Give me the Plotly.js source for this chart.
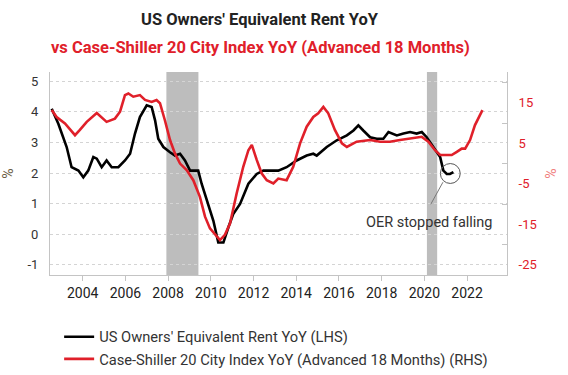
<!DOCTYPE html>
<html><head><meta charset="utf-8">
<script src="https://cdn.plot.ly/plotly-3.0.1.min.js"></script>
<style>html,body{margin:0;padding:0;background:#fff;}#chart{width:568px;height:375px;}</style>
</head><body><div id="chart"></div>
<script>
const oerX = [2002.55, 2002.86, 2003.25, 2003.48, 2003.8, 2004.03, 2004.26, 2004.5, 2004.66, 2004.89, 2005.12, 2005.36, 2005.67, 2005.98, 2006.22, 2006.45, 2006.68, 2007.0, 2007.23, 2007.39, 2007.54, 2007.78, 2008.09, 2008.32, 2008.56, 2008.79, 2009.03, 2009.41, 2009.57, 2009.81, 2010.12, 2010.35, 2010.59, 2010.82, 2011.05, 2011.37, 2011.76, 2012.15, 2012.46, 2012.77, 2013.16, 2013.55, 2014.02, 2014.49, 2014.8, 2014.96, 2015.43, 2015.9, 2016.37, 2016.68, 2016.91, 2017.14, 2017.46, 2017.77, 2018.08, 2018.32, 2018.71, 2019.02, 2019.33, 2019.64, 2019.88, 2020.11, 2020.43, 2020.74, 2020.89, 2021.05, 2021.2, 2021.36];
const oerY = [4.1, 3.61, 2.85, 2.19, 2.08, 1.86, 2.08, 2.52, 2.47, 2.19, 2.41, 2.19, 2.19, 2.41, 2.63, 3.29, 3.83, 4.21, 4.16, 3.72, 3.12, 2.85, 2.68, 2.57, 2.63, 2.41, 2.08, 2.08, 1.65, 1.1, 0.44, -0.27, -0.27, 0.22, 0.66, 0.99, 1.65, 1.97, 2.08, 2.08, 2.08, 2.19, 2.41, 2.57, 2.63, 2.57, 2.85, 3.07, 3.23, 3.39, 3.56, 3.39, 3.17, 3.12, 3.12, 3.34, 3.23, 3.29, 3.34, 3.29, 3.34, 3.17, 2.85, 2.52, 2.08, 1.97, 1.97, 2.03];
const csX = [2002.55, 2002.78, 2003.17, 2003.64, 2003.87, 2004.19, 2004.66, 2005.12, 2005.51, 2005.75, 2005.98, 2006.14, 2006.37, 2006.68, 2006.92, 2007.23, 2007.46, 2007.62, 2007.85, 2008.09, 2008.32, 2008.56, 2008.87, 2009.18, 2009.49, 2009.73, 2009.96, 2010.2, 2010.43, 2010.66, 2010.9, 2011.21, 2011.52, 2011.76, 2011.92, 2012.15, 2012.38, 2012.62, 2012.93, 2013.16, 2013.55, 2013.86, 2014.18, 2014.49, 2014.8, 2015.03, 2015.27, 2015.5, 2015.81, 2016.14, 2016.37, 2016.83, 2017.46, 2017.93, 2018.39, 2018.86, 2019.48, 2019.88, 2020.19, 2020.5, 2020.74, 2021.05, 2021.28, 2021.52, 2021.75, 2021.91, 2022.14, 2022.37, 2022.61, 2022.72];
const csY = [13.2, 11.5, 9.9, 7.0, 8.3, 10.3, 12.5, 10.3, 11.1, 12.8, 16.9, 17.3, 16.5, 16.9, 15.7, 15.2, 15.7, 14.9, 10.7, 5.8, 2.5, 0.0, -1.6, -4.1, -8.2, -13.1, -16.0, -17.6, -18.9, -17.6, -14.8, -7.4, -0.8, 3.3, 4.6, 0.9, -2.4, -4.1, -4.9, -3.7, -4.1, -0.8, 5.0, 9.1, 11.5, 12.4, 14.0, 12.4, 8.3, 5.0, 4.1, 5.4, 5.8, 5.4, 5.4, 5.8, 6.2, 6.6, 5.4, 3.3, 2.1, 2.1, 2.1, 2.9, 3.7, 3.7, 5.8, 9.5, 12.0, 13.2];
const xTicks = [2004, 2006, 2008, 2010, 2012, 2014, 2016, 2018, 2020, 2022];
const leftTicks = [-1, 0, 1, 2, 3, 4, 5];
const rightTicks = [-25, -15, -5, 5, 15];
const rightMinor = [-20, -10, 0, 10, 20];
const recessions = [[2007.92, 2009.42], [2020.12, 2020.6]];
const seriesNames = ["US Owners' Equivalent Rent YoY (LHS)", "Case-Shiller 20 City Index YoY (Advanced 18 Months) (RHS)"];
const titleLine1 = "US Owners' Equivalent Rent YoY";
const titleLine2 = "vs Case-Shiller 20 City Index YoY (Advanced 18 Months)";
const noteText = "OER stopped falling";

const RED = '#e0202a';
const font = 'Roboto, "Liberation Sans", Arial, sans-serif';

const traces = [
  {x: oerX, y: oerY, type: 'scatter', mode: 'lines', name: seriesNames[0],
   line: {color: '#000000', width: 2.6}, yaxis: 'y'},
  {x: csX, y: csY, type: 'scatter', mode: 'lines', name: seriesNames[1],
   line: {color: RED, width: 2.6}, yaxis: 'y2'}
];

const shapes = recessions.map(r => ({type: 'rect', xref: 'x', yref: 'paper', x0: r[0], x1: r[1], y0: 0, y1: 1,
  fillcolor: '#bdbdbd', line: {width: 0}, layer: 'below'}));
shapes.push({type: 'circle', xref: 'x', yref: 'y', x0: 2020.75, x1: 2021.68, y0: 1.66, y1: 2.31,
  line: {color: '#555', width: 1}, fillcolor: 'rgba(0,0,0,0)'});
shapes.push({type: 'line', xref: 'x', yref: 'y', x0: 2020.87, y0: 1.7, x1: 2020.3, y1: 0.98,
  line: {color: '#777', width: 1}});

const layout = {
  width: 568, height: 375,
  margin: {l: 50, r: 61, t: 72, b: 100, autoexpand: false},
  paper_bgcolor: '#fff', plot_bgcolor: '#fff',
  font: {family: font, color: '#333', size: 12},
  showlegend: true,
  legend: {x: 0.02, y: -0.225, xanchor: 'left', yanchor: 'top', orientation: 'v',
    font: {family: font, size: 14.7, color: '#333'}, itemwidth: 30, tracegroupgap: 0, bgcolor: 'rgba(0,0,0,0)'},
  xaxis: {range: [2002.47, 2023.87], tickvals: xTicks, ticktext: xTicks.map(String), automargin: false,
    showgrid: false, zeroline: false, showline: true, linecolor: '#c4c4c4', linewidth: 1,
    ticks: 'outside', ticklen: 5, tickcolor: '#c4c4c4',
    tickfont: {family: font, size: 14, color: '#222'}},
  yaxis: {range: [-1.33, 5.3], tickvals: leftTicks, ticktext: leftTicks.map(String), automargin: false,
    showgrid: true, gridcolor: '#d4d4d4', griddash: 'dot', gridwidth: 1, zeroline: false,
    showline: true, linecolor: '#c4c4c4', linewidth: 1, ticks: '', ticklabelstandoff: 8,
    tickfont: {family: font, size: 13, color: '#333'},
    title: {text: '%', font: {family: font, size: 14, color: '#6b5d45'}, standoff: 12}},
  yaxis2: {range: [-27.5, 22.6], overlaying: 'y', side: 'right', tickvals: rightTicks, ticktext: rightTicks.map(String), automargin: false,
    showgrid: false, zeroline: false, showline: true, linecolor: '#c4c4c4', linewidth: 1,
    ticks: 'inside', ticklen: 0, ticklabelstandoff: 8,
    minor: {tickvals: rightMinor, ticks: 'inside', ticklen: 5, tickcolor: '#c4c4c4'},
    tickfont: {family: font, size: 13, color: RED},
    title: {text: '%', font: {family: font, size: 14, color: '#f08080'}, standoff: 10}},
  shapes: shapes,
  annotations: [
    {text: '<b>' + titleLine1 + '</b>', xref: 'paper', yref: 'paper', x: (260 - 50) / 457, y: 1 + (72 - 20) / 203,
     xanchor: 'center', yanchor: 'middle', showarrow: false, font: {family: font, size: 16.5, color: '#222'}},
    {text: '<b>' + titleLine2 + '</b>', xref: 'paper', yref: 'paper', x: (260 - 50) / 457, y: 1 + (72 - 47) / 203,
     xanchor: 'center', yanchor: 'middle', showarrow: false, font: {family: font, size: 16.5, color: RED}},
    {text: noteText, xref: 'x', yref: 'y', x: 2023.31, y: 0.38, xanchor: 'right', yanchor: 'middle',
     showarrow: false, font: {family: font, size: 14.5, color: '#333'}, bgcolor: 'rgba(255,255,255,0)'}
  ]
};

Plotly.newPlot('chart', traces, layout, {displayModeBar: false, staticPlot: true});
</script></body></html>
